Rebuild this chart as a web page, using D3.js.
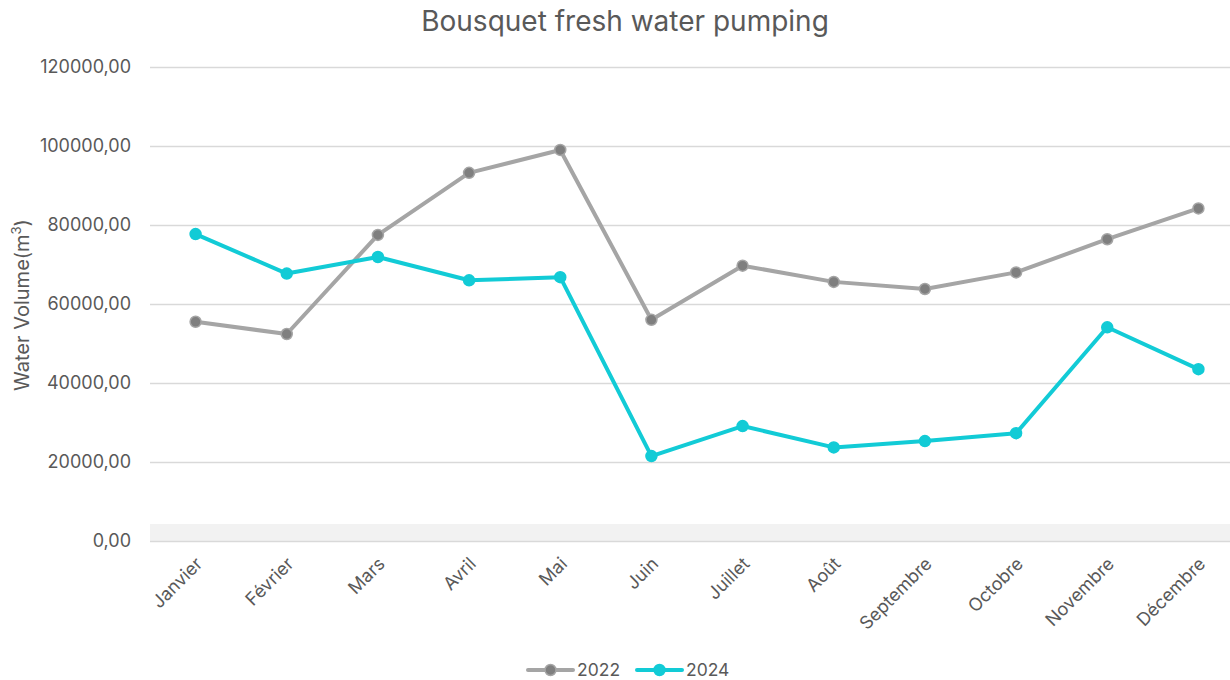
<!DOCTYPE html>
<html><head><meta charset="utf-8">
<script src="https://cdn.jsdelivr.net/npm/d3@7"></script>
<style>body{margin:0;background:#fff;}text{font-family:Inter,"Open Sans",sans-serif;}</style>
</head><body>
<svg id="c" width="1230" height="680"></svg>
<script>
const months = ["Janvier","Février","Mars","Avril","Mai","Juin","Juillet","Août","Septembre","Octobre","Novembre","Décembre"];
const values2022 = [55500,52400,77500,93200,99000,56000,69700,65600,63800,68000,76400,84200];
const values2024 = [77700,67700,71900,66000,66800,21500,29100,23700,25300,27300,54100,43500];
const yTicks = [0,20000,40000,60000,80000,100000,120000];
const seriesNames = ["2022","2024"];

(function(){
const svg = d3.select("#c");
const pLeft = 150, pRight = 1244, pTop = 67, pBottom = 541;
const x = d3.scaleBand().domain(months).range([pLeft, pRight]);
const y = d3.scaleLinear().domain([0,120000]).range([pBottom, pTop]);
const fmt = v => d3.format(".2f")(v).replace(".", ",");
const txt = "#595959";
const ff = "Inter,'Open Sans',sans-serif";

svg.append("text").attr("x",625).attr("y",31).attr("text-anchor","middle")
  .attr("font-size",28).attr("fill",txt).attr("font-family",ff).text("Bousquet fresh water pumping");

svg.append("rect").attr("x",pLeft).attr("y",524).attr("width",1230-pLeft).attr("height",pBottom-524).attr("fill","#f2f2f2");

const yAxis = d3.axisLeft(y).tickValues(yTicks).tickFormat(fmt).tickSize(-(1230-pLeft)).tickPadding(19);
const ga = svg.append("g").attr("transform",`translate(${pLeft},0)`).call(yAxis);
ga.select(".domain").remove();
ga.selectAll(".tick line").attr("stroke","#d9d9d9").attr("stroke-width",1.3);
ga.selectAll(".tick text").attr("font-size",18).attr("fill",txt).attr("font-family",ff);

const xAxis = d3.axisBottom(x).tickSize(0).tickPadding(0);
const gx = svg.append("g").attr("transform",`translate(0,${pBottom})`).call(xAxis);
gx.select(".domain").remove();
gx.selectAll(".tick text").attr("font-size",18).attr("fill",txt).attr("font-family",ff)
  .attr("text-anchor","end").attr("dy",0).attr("y",0)
  .attr("transform","translate(8,24) rotate(-45)");

svg.append("text").attr("transform","translate(29,305) rotate(-90)").attr("text-anchor","middle")
  .attr("font-size",20).attr("fill",txt).attr("font-family",ff)
  .html('Water Volume(m<tspan baseline-shift="super" font-size="13">3</tspan>)');

const cx = d => x(d) + x.bandwidth()/2;
const series = [
  {name:seriesNames[0], vals:values2022, line:"#a5a5a5", dot:"#7f7f7f"},
  {name:seriesNames[1], vals:values2024, line:"#12cbd6", dot:"#12cbd6"}
];
const line = d3.line().x((d,i)=>cx(months[i])).y(d=>y(d));
series.forEach(s=>{
  svg.append("path").datum(s.vals).attr("d",line).attr("fill","none")
    .attr("stroke",s.line).attr("stroke-width",4).attr("stroke-linejoin","round");
  svg.selectAll(null).data(s.vals).enter().append("circle")
    .attr("cx",(d,i)=>cx(months[i])).attr("cy",d=>y(d)).attr("r",5.5)
    .attr("fill",s.dot).attr("stroke",s.line).attr("stroke-width",1.5);
});

const legX = [528, 637];
series.forEach((s,i)=>{
  const g = svg.append("g").attr("transform",`translate(${legX[i]},670)`);
  g.append("line").attr("x1",0).attr("x2",45).attr("stroke",s.line).attr("stroke-width",4).attr("stroke-linecap","round");
  g.append("circle").attr("cx",22.5).attr("r",5.5).attr("fill",s.dot).attr("stroke",s.line).attr("stroke-width",1.5);
  g.append("text").attr("x",49).attr("y",6).attr("font-size",17.5).attr("fill",txt).attr("font-family",ff).text(s.name);
});
})();
</script>
</body></html>
